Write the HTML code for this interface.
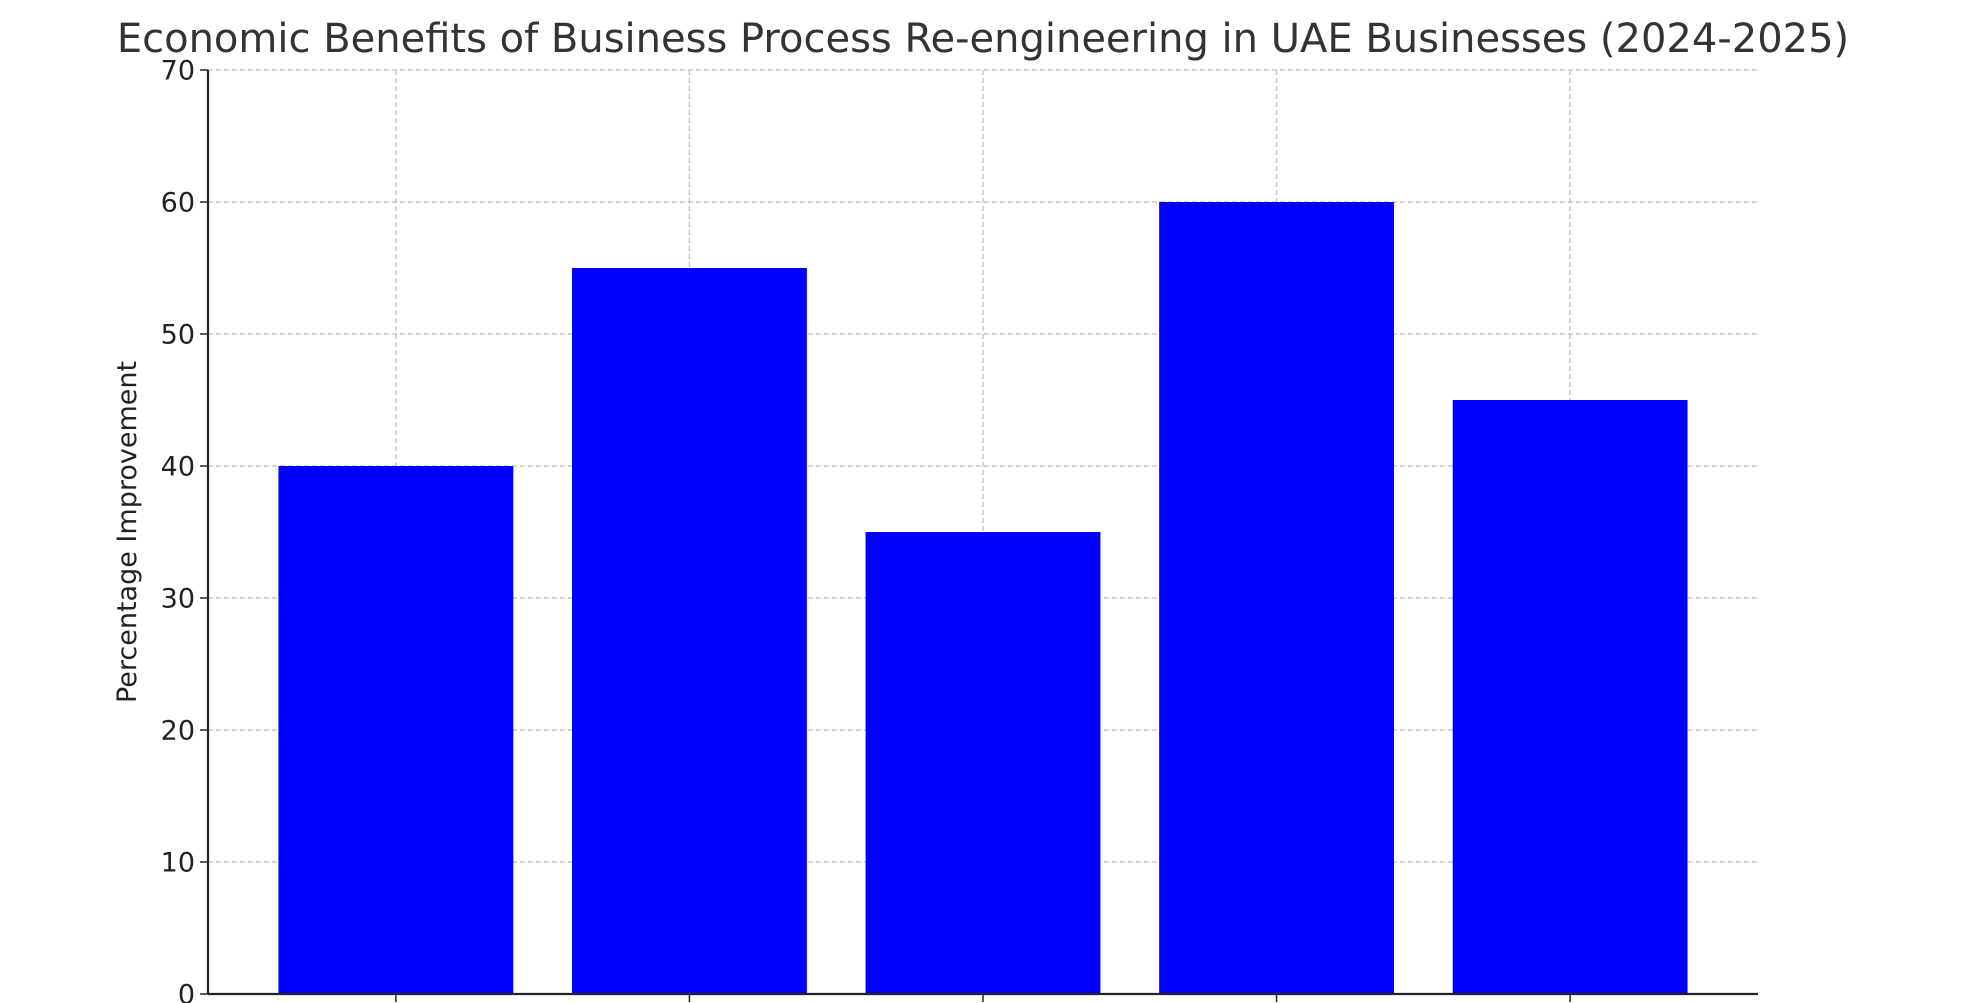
<!DOCTYPE html>
<html><head><meta charset="utf-8"><style>
html,body{margin:0;padding:0;background:#fff;}
svg{display:block;font-family:"DejaVu Sans","Liberation Sans",sans-serif;}
</style></head><body>
<svg id="chart" width="1965" height="1003" viewBox="0 0 1965 1003" xmlns="http://www.w3.org/2000/svg">
<text x="983" y="52" text-anchor="middle" font-size="40" fill="#333">Economic Benefits of Business Process Re-engineering in UAE Businesses (2024-2025)</text>
<g id="grid"></g>
<g id="bars"></g>
<g id="axes"></g>
<text transform="translate(136,532) rotate(-90)" text-anchor="middle" font-size="27" fill="#222">Percentage Improvement</text>
</svg>
<script>
const categories = ["Cost Reduction","Productivity Increase","Time Savings","Customer Satisfaction","Profit Growth"];
const values = [40, 55, 35, 60, 45];
const yTicks = [0, 10, 20, 30, 40, 50, 60, 70];

const NS = "http://www.w3.org/2000/svg";
const L = 208, R = 1758, T = 70, B = 994;
const xMin = -0.64, xMax = categories.length - 1 + 0.64;
const yMin = 0, yMax = 70;
function xScale(i){ return L + (i - xMin) / (xMax - xMin) * (R - L); }
function yScale(v){ return B - (v - yMin) / (yMax - yMin) * (B - T); }
function mk(tag, attrs, parent){
  const e = document.createElementNS(NS, tag);
  for (const k in attrs) e.setAttribute(k, attrs[k]);
  parent.appendChild(e); return e;
}
const grid = document.getElementById('grid');
const bars = document.getElementById('bars');
const axes = document.getElementById('axes');
const bw = 0.8 * (xScale(1) - xScale(0));

categories.forEach((c, i) => {
  const x = xScale(i);
  const r = mk('rect', {x: x - bw/2, y: yScale(values[i]), width: bw, height: yScale(0) - yScale(values[i]), fill: '#0000ff'}, bars);
  
  
});
categories.forEach((c, i) => {
  const x = xScale(i);
  const g = mk('line', {x1: x, x2: x, y1: T, y2: B, stroke: '#b0b0b0', 'stroke-opacity': 0.7, 'stroke-width': 1.5, 'stroke-dasharray': '5,3'}, grid);
  
  
  const t = mk('line', {x1: x, x2: x, y1: B, y2: B + 8, stroke: '#222', 'stroke-width': 1.5}, axes);
  
  
});
yTicks.forEach(v => {
  const y = yScale(v);
  const g = mk('line', {x1: L, x2: R, y1: y, y2: y, stroke: '#b0b0b0', 'stroke-opacity': 0.7, 'stroke-width': 1.5, 'stroke-dasharray': '5,3'}, grid);
  
  
  const t = mk('line', {x1: L - 8, x2: L, y1: y, y2: y, stroke: '#222', 'stroke-width': 1.5}, axes);
  
  
  const lb = mk('text', {x: L - 13, y: y + 9.5, 'text-anchor': 'end', 'font-size': 27, fill: '#222'}, axes);
  lb.textContent = v;
  
  
});
const ya = mk('line', {x1: L, x2: L, y1: T, y2: B, stroke: '#222', 'stroke-width': 2.2}, axes);


const xa = mk('line', {x1: L, x2: R, y1: B, y2: B, stroke: '#222', 'stroke-width': 2.2}, axes);


</script>
</body></html>
